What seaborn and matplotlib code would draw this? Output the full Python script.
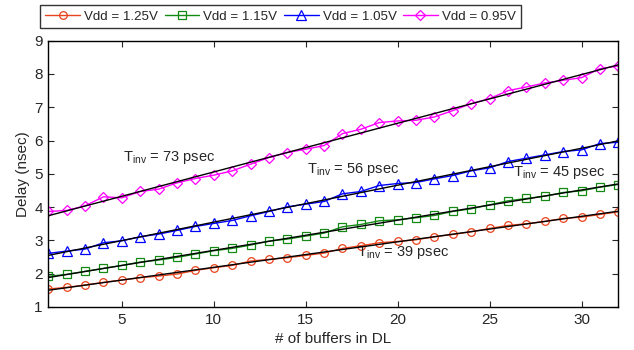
import numpy as np
import pandas as pd
import matplotlib
matplotlib.use("Agg")
import matplotlib.pyplot as plt
import seaborn as sns

buffers = list(range(1, 33))
vdd_125 = [1.54, 1.59, 1.66, 1.74, 1.81, 1.88, 1.93, 1.99, 2.10, 2.18, 2.25,
           2.38, 2.43, 2.48, 2.55, 2.62, 2.76, 2.84, 2.93, 2.97, 3.02, 3.11,
           3.18, 3.26, 3.36, 3.45, 3.50, 3.57, 3.66, 3.70, 3.78, 3.86]
vdd_115 = [1.92, 1.98, 2.07, 2.16, 2.25, 2.35, 2.41, 2.49, 2.59, 2.69, 2.76,
           2.86, 2.98, 3.04, 3.13, 3.22, 3.41, 3.48, 3.59, 3.62, 3.68, 3.75,
           3.87, 3.95, 4.07, 4.19, 4.26, 4.33, 4.44, 4.49, 4.60, 4.68]
vdd_105 = [2.61, 2.68, 2.74, 2.93, 2.99, 3.11, 3.19, 3.30, 3.42, 3.51, 3.60,
           3.74, 3.87, 4.01, 4.09, 4.17, 4.40, 4.47, 4.65, 4.71, 4.74, 4.85,
           4.95, 5.09, 5.18, 5.37, 5.47, 5.57, 5.67, 5.72, 5.91, 5.95]
vdd_095 = [3.87, 3.90, 4.04, 4.31, 4.28, 4.47, 4.54, 4.73, 4.86, 4.96, 5.09,
           5.29, 5.49, 5.64, 5.74, 5.85, 6.21, 6.34, 6.54, 6.59, 6.61, 6.71,
           6.90, 7.11, 7.26, 7.50, 7.61, 7.73, 7.81, 7.89, 8.16, 8.24]

labels = ["Vdd = 1.25V", "Vdd = 1.15V", "Vdd = 1.05V", "Vdd = 0.95V"]
series = [vdd_125, vdd_115, vdd_105, vdd_095]
colors = ["#e8431c", "#138a13", "#0000ff", "#ff00ff"]
markers = ["o", "s", "^", "D"]
msizes = [5.5, 5.5, 7, 5]

annot_text = [r"T$_{\mathrm{inv}}$ = 73 psec", r"T$_{\mathrm{inv}}$ = 56 psec",
              r"T$_{\mathrm{inv}}$ = 45 psec", r"T$_{\mathrm{inv}}$ = 39 psec"]
annot_x = [5.05, 15.05, 26.3, 17.8]
annot_y = [5.5, 5.12, 5.04, 2.64]

sns.set_style("ticks")
plt.rcParams["font.family"] = ["Liberation Sans", "DejaVu Sans"]
plt.rcParams["mathtext.fontset"] = "custom"
plt.rcParams["mathtext.rm"] = "Liberation Sans"
plt.rcParams["mathtext.it"] = "Liberation Sans:italic"

fig = plt.figure(figsize=(6.34, 3.5), dpi=100)
ax = fig.add_axes([48.3 / 634, 1 - 307 / 350, (618.3 - 48.3) / 634, (307 - 40.7) / 350])

for lab, ys, c, m, ms in zip(labels, series, colors, markers, msizes):
    df = pd.DataFrame({"x": buffers, "y": ys})
    sns.lineplot(data=df, x="x", y="y", ax=ax, color=c, marker=m, markersize=ms,
                 markerfacecolor="none", markeredgecolor=c, markeredgewidth=0.9,
                 linewidth=1.0, label=lab, legend=False)
    k, b = np.polyfit(buffers, ys, 1)
    xs = np.array([buffers[0], buffers[-1]])
    ax.plot(xs, k * xs + b, color="black", linewidth=1.0, zorder=5)

for t, x, y in zip(annot_text, annot_x, annot_y):
    ax.text(x, y, t, fontsize=10.5, ha="left", va="center")

ax.set_xlim(1, 32)
ax.set_ylim(1, 9)
ax.set_xticks([5, 10, 15, 20, 25, 30])
ax.set_yticks(range(1, 10))
ax.tick_params(direction="in", top=True, right=True, length=4, width=0.8,
               labelsize=11, pad=4)
for s in ax.spines.values():
    s.set_visible(True)
    s.set_linewidth(1.0)
    s.set_color("black")
ax.set_xlabel("# of buffers in DL", fontsize=11)
ax.set_ylabel("Delay (nsec)", fontsize=11, labelpad=3)

handles, labs = ax.get_legend_handles_labels()
handles = [h for h, l in zip(handles, labs) if l in labels]
leg = fig.legend(handles, labels, loc="upper left", ncol=4,
                 bbox_to_anchor=(40 / 634, 1 - 5 / 350), fontsize=9.6,
                 frameon=True, fancybox=False, edgecolor="black",
                 handlelength=2.6, handletextpad=0.3, columnspacing=0.5,
                 borderpad=0.4, borderaxespad=0)
leg.get_frame().set_linewidth(1.0)

fig.savefig("out.png", dpi=100)
